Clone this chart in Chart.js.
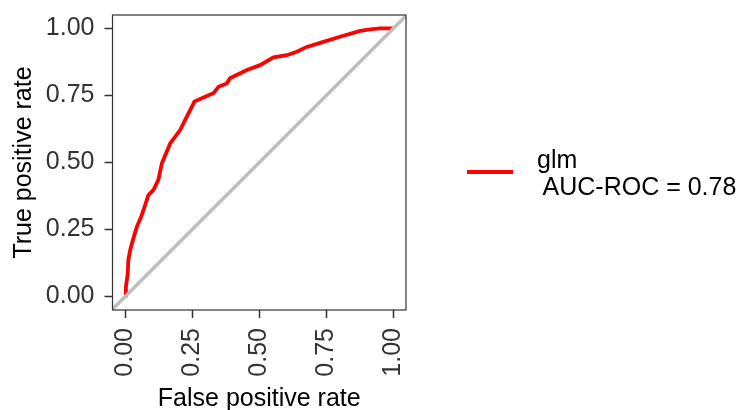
<!DOCTYPE html>
<html>
<head>
<meta charset="utf-8">
<script src="https://cdn.jsdelivr.net/npm/chart.js@4.4.1/dist/chart.umd.min.js"></script>
<style>
  body { margin: 0; background: #fff; }
  #wrap { position: relative; width: 748px; height: 410px; }
  #legend { position: absolute; left: 0; top: 0; font-family: "Liberation Sans", Arial, sans-serif; font-size: 25px; color: #000; }
  .key { position: absolute; left: 467px; top: 170px; width: 46px; height: 4px; background: #ff0000; }
  .lab { position: absolute; left: 537px; line-height: 25px; white-space: pre; }
</style>
</head>
<body>
<div id="wrap">
  <canvas id="myChart" width="748" height="410"></canvas>
  <div id="legend">
    <div class="key"></div>
    <div class="lab" style="top:147px">glm</div>
    <div class="lab" style="top:174px"> AUC-ROC = 0.78</div>
  </div>
</div>
<script>
// ROC curve
var fpr = [0, 0.003, 0.01, 0.012, 0.019, 0.031, 0.044, 0.06, 0.075, 0.087, 0.105, 0.112, 0.124, 0.137, 0.168, 0.205, 0.23, 0.249, 0.258, 0.292, 0.329, 0.348, 0.379, 0.391, 0.454, 0.503, 0.553, 0.603, 0.64, 0.677, 0.739, 0.801, 0.876, 0.913, 0.95, 0.988, 1.0]
var tpr = [0.005, 0.037, 0.087, 0.137, 0.174, 0.218, 0.261, 0.298, 0.342, 0.379, 0.397, 0.41, 0.435, 0.497, 0.571, 0.621, 0.671, 0.708, 0.727, 0.742, 0.758, 0.782, 0.795, 0.814, 0.845, 0.863, 0.892, 0.9, 0.913, 0.931, 0.95, 0.969, 0.991, 0.996, 1.0, 1.0, 1.0]

var tickValues = [0, 0.25, 0.5, 0.75, 1]
var tickLabels = ['0.00', '0.25', '0.50', '0.75', '1.00']

var xMin = -0.047, xMax = 1.047
var yMin = -0.05, yMax = 1.05

var rocPoints = fpr.map(function (v, i) { return { x: v, y: tpr[i] } })
var diagPoints = [{ x: xMin, y: xMin }, { x: xMax, y: xMax }]

var fontFam = '"Liberation Sans", Arial, sans-serif'

// box round the panel
var panelBox = {
    id: 'panelBox',
    afterDraw: function (chart) {
        var a = chart.chartArea
        var ctx = chart.ctx
        ctx.save()
        ctx.strokeStyle = '#333'
        ctx.lineWidth = 1.2
        ctx.strokeRect(a.left, a.top, a.right - a.left, a.bottom - a.top)
        ctx.restore()
    }
}

function fixTicks(scale) {
    scale.ticks = tickValues.map(function (v) { return { value: v } })
}

function tickText(value) {
    var i = tickValues.indexOf(value)
    return i >= 0 ? tickLabels[i] : ''
}

var config = {
    type: 'scatter',
    data: {
        datasets: [
            {
                label: 'diagonal',
                data: diagPoints,
                showLine: true,
                borderColor: '#bebebe',
                borderWidth: 3.5,
                pointRadius: 0
            },
            {
                label: 'glm',
                data: rocPoints,
                showLine: true,
                borderColor: '#ff0000',
                borderWidth: 3.8,
                pointRadius: 0
            }
        ]
    },
    options: {
        responsive: false,
        animation: false,
        layout: { padding: { top: 15, right: 342, left: 0, bottom: 0 } },
        plugins: { legend: { display: false }, tooltip: { enabled: false } },
        scales: {
            x: {
                type: 'linear',
                min: xMin,
                max: xMax,
                afterBuildTicks: fixTicks,
                afterFit: function (s) { s.height = 100; s.paddingLeft = 0; s.paddingRight = 0 },
                grid: { drawOnChartArea: false, drawTicks: true, tickLength: 8, tickColor: '#333', tickWidth: 1.5 },
                border: { display: false },
                ticks: {
                    autoSkip: false,
                    minRotation: 90,
                    maxRotation: 90,
                    padding: 10,
                    color: '#333',
                    font: { family: fontFam, size: 25 },
                    callback: tickText
                },
                title: {
                    display: true,
                    text: 'False positive rate',
                    color: '#000',
                    font: { family: fontFam, size: 25, lineHeight: 0.9 },
                    padding: { top: 0, bottom: 0 }
                }
            },
            y: {
                type: 'linear',
                min: yMin,
                max: yMax,
                afterBuildTicks: fixTicks,
                afterFit: function (s) { s.width = 112.5; s.paddingTop = 0; s.paddingBottom = 0 },
                grid: { drawOnChartArea: false, drawTicks: true, tickLength: 8, tickColor: '#333', tickWidth: 1.5 },
                border: { display: false },
                ticks: {
                    autoSkip: false,
                    padding: 10,
                    color: '#333',
                    font: { family: fontFam, size: 25 },
                    callback: tickText
                },
                title: {
                    display: true,
                    text: 'True positive rate',
                    color: '#000',
                    font: { family: fontFam, size: 25 },
                    padding: { top: 9, bottom: 0 }
                }
            }
        }
    },
    plugins: [panelBox]
}

var myChart = new Chart(document.getElementById('myChart'), config)
</script>
</body>
</html>
